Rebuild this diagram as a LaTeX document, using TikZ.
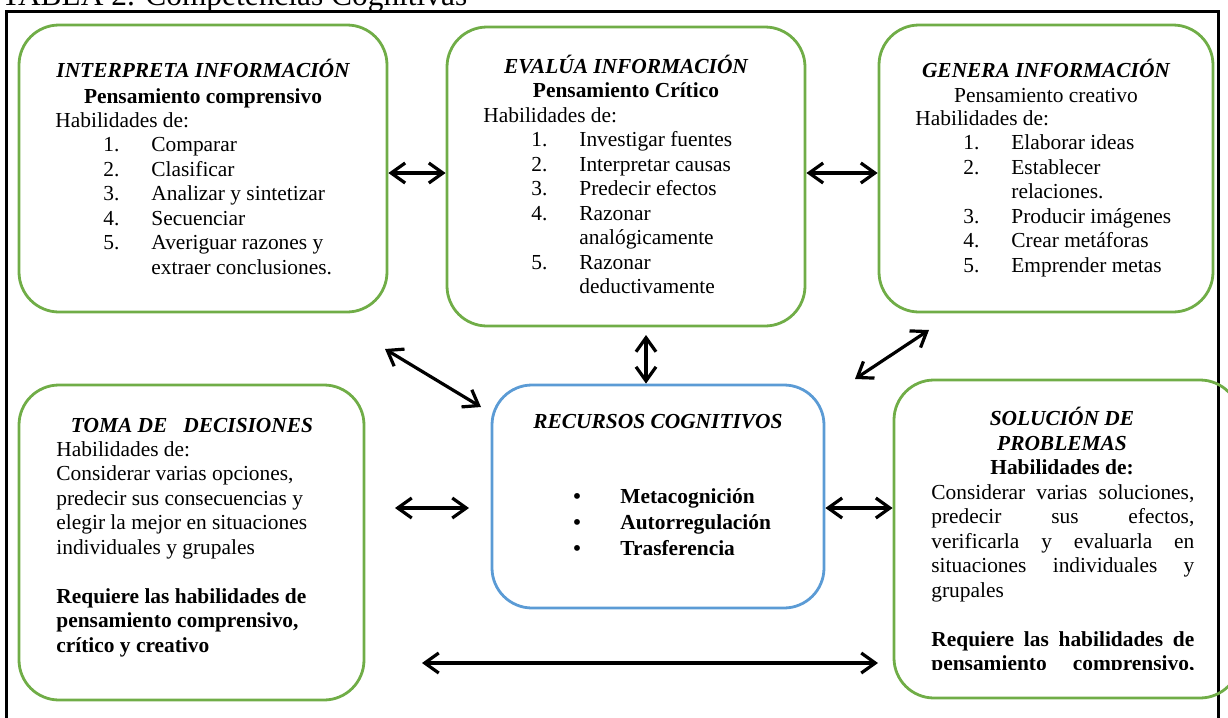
\documentclass[tikz,border=0pt]{standalone}
\usepackage{fontspec}
\setmainfont{Liberation Serif}
\usetikzlibrary{arrows.meta,fit}

\definecolor{boxgreen}{RGB}{112,173,71}
\definecolor{boxblue}{RGB}{91,155,213}

\newcommand{\bloque}[1]{\begin{tabular}[t]{@{}l@{}}#1\end{tabular}}
\newcommand{\elem}[2]{\hspace*{24pt}\makebox[24pt][l]{#1}#2}
\newcommand{\contlin}[1]{\hspace*{48pt}#1}
\newcommand{\justa}[1]{\makebox[131.5pt][s]{#1}}

\tikzset{
  gbox/.style={draw=boxgreen, line width=1.4pt, rounded corners=20pt, inner sep=0pt},
  bbox/.style={gbox, draw=boxblue},
  ttl/.style={font=\bfseries\itshape, anchor=base, inner sep=0pt},
  txt/.style={anchor=base west, inner sep=0pt},
  dbl/.style={{Straight Barb[length=7pt,width=10pt]}-{Straight Barb[length=7pt,width=10pt]}, line width=1.6pt},
}

\begin{document}
\fontsize{10.7}{12.25}\selectfont
\begin{tikzpicture}[x=0.5pt, y=-0.5pt]
\useasboundingbox (0,0) rectangle (1228,718);

% marco y titulo
\node[txt, font=\fontsize{15.7}{18}\selectfont] (titulo) at (1,5) {TABLA 2. Competencias Cognitivas};
\draw[line width=1.5pt] (6,11) rectangle (1218,740);

% cajas
\node[gbox, fit={(19,25) (387,312)}] (interp) {};
\node[gbox, fit={(447,27) (805,326)}] (evalua) {};
\node[gbox, fit={(879,25) (1213,312)}] (genera) {};
\node[gbox, fit={(19,385) (364,700)}] (decide) {};
\node[bbox, fit={(492,385) (824,608)}] (recursos) {};
\node[gbox, fit={(894,380) (1240,698)}] (solucion) {};

% interpreta
\node[ttl] (t-interp) at (203,77) {INTERPRETA INFORMACIÓN};
\node[ttl, font=\bfseries] (s-interp) at (203,103) {Pensamiento comprensivo};
\node[txt] (h-interp) at (55,127) {\bloque{Habilidades de:\\
  \elem{1.}{Comparar}\\ \elem{2.}{Clasificar}\\ \elem{3.}{Analizar y sintetizar}\\
  \elem{4.}{Secuenciar}\\ \elem{5.}{Averiguar razones y}\\ \contlin{extraer conclusiones.}}};

% evalua
\node[ttl] (t-evalua) at (626,73) {EVALÚA INFORMACIÓN};
\node[ttl, font=\bfseries] (s-evalua) at (626,97) {Pensamiento Crítico};
\node[txt] (h-evalua) at (483,122) {\bloque{Habilidades de:\\
  \elem{1.}{Investigar fuentes}\\ \elem{2.}{Interpretar causas}\\ \elem{3.}{Predecir efectos}\\
  \elem{4.}{Razonar}\\ \contlin{analógicamente}\\ \elem{5.}{Razonar}\\ \contlin{deductivamente}}};

% genera
\node[ttl] (t-genera) at (1046,77) {GENERA INFORMACIÓN};
\node[ttl, font=\normalfont] (s-genera) at (1046,102) {Pensamiento creativo};
\node[txt] (h-genera) at (915,125) {\bloque{Habilidades de:\\
  \elem{1.}{Elaborar ideas}\\ \elem{2.}{Establecer}\\ \contlin{relaciones.}\\
  \elem{3.}{Producir imágenes}\\ \elem{4.}{Crear metáforas}\\ \elem{5.}{Emprender metas}}};

% toma de decisiones
\node[ttl] (t-decide) at (192,432) {TOMA DE\ \ \ DECISIONES};
\node[txt] (h-decide) at (56,456) {\bloque{Habilidades de:\\
  Considerar varias opciones,\\ predecir sus consecuencias y\\ elegir la mejor en situaciones\\
  individuales y grupales\\ \\ \textbf{Requiere las habilidades de}\\
  \textbf{pensamiento comprensivo,}\\ \textbf{crítico y creativo}}};

% recursos
\node[ttl] (t-recursos) at (658,428) {RECURSOS COGNITIVOS};
\node[txt, font=\bfseries] (h-recursos) at (573,503) {\bloque{%
  \makebox[23.5pt][l]{\textbullet}Metacognición\\[0.75pt]
  \makebox[23.5pt][l]{\textbullet}Autorregulación\\[0.75pt]
  \makebox[23.5pt][l]{\textbullet}Trasferencia}};

% solucion de problemas
\node[ttl] (t-solucion) at (1062,425) {SOLUCIÓN DE};
\node[ttl] (t2-solucion) at (1062,450) {PROBLEMAS};
\node[ttl, font=\bfseries] (s-solucion) at (1062,474) {Habilidades de:};
\begin{scope}
\clip (894,380) rectangle (1228,669);
\node[txt] (h-solucion) at (931,499) {\bloque{%
  \justa{Considerar varias soluciones,}\\ \justa{predecir sus efectos,}\\
  \justa{verificarla y evaluarla en}\\ \justa{situaciones individuales y}\\ grupales\\ \\
  \textbf{\justa{Requiere las habilidades de}}\\ \textbf{\justa{pensamiento comprensivo,}}}};
\end{scope}

% flechas
\coordinate (fila) at (0,173);
\coordinate (fila2) at (0,508);
\coordinate (a3) at (646,335);
\coordinate (a4s) at (385,349);
\coordinate (a4e) at (481,407);
\coordinate (a5s) at (855,379);
\coordinate (a5e) at (929,330);
\coordinate (a6s) at (395,508);
\coordinate (a6e) at (469,508);
\coordinate (a8s) at (422,663);
\coordinate (a8e) at (878,663);

\draw[dbl] (interp.east |- fila) -- (evalua.west |- fila);
\draw[dbl] (evalua.east |- fila) -- (genera.west |- fila);
\draw[dbl] (a3) -- (a3 |- recursos.north);
\draw[dbl] (a4s) -- (a4e);
\draw[dbl] (a5s) -- (a5e);
\draw[dbl] (a6s) -- (a6e);
\draw[dbl] (recursos.east |- fila2) -- (solucion.west |- fila2);
\draw[dbl] (a8s) -- (a8e);

\end{tikzpicture}
\end{document}
